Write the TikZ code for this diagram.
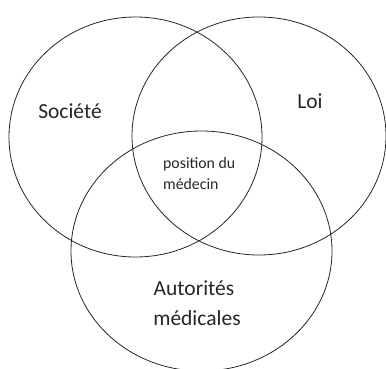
\documentclass[tikz,border=0pt]{standalone}
\usepackage{fontspec}
\setmainfont{Carlito}
\begin{document}
\begin{tikzpicture}[x=1pt,y=-1pt,
  ring/.style={draw=black!85,line width=0.8pt},
  big/.style={font=\fontsize{21.5}{31}\selectfont,text=black!85,inner sep=0pt},
  small/.style={font=\fontsize{15.8}{21}\selectfont,text=black!85,inner sep=0pt}]
\useasboundingbox (0,0) rectangle (386,369);
\clip (0,0) rectangle (386,369);
\draw[ring] (135.5,137) ellipse [x radius=126.5,y radius=120];
\draw[ring] (259,136) ellipse [x radius=127,y radius=119];
\draw[ring] (201.5,251) ellipse [x radius=130.5,y radius=120];
\node[big,anchor=base] (soc) at (70,119) {Société};
\node[big,anchor=base] (loi) at (310,109) {Loi};
\node[big,anchor=base] (aut) at (194,295) {Autorités};
\node[big,anchor=base] (med) at (197,325) {médicales};
\node[small,anchor=base west] (pos) at (163,168) {position du};
\node[small,anchor=base west] (doc) at (163,189) {médecin};
\end{tikzpicture}
\end{document}
